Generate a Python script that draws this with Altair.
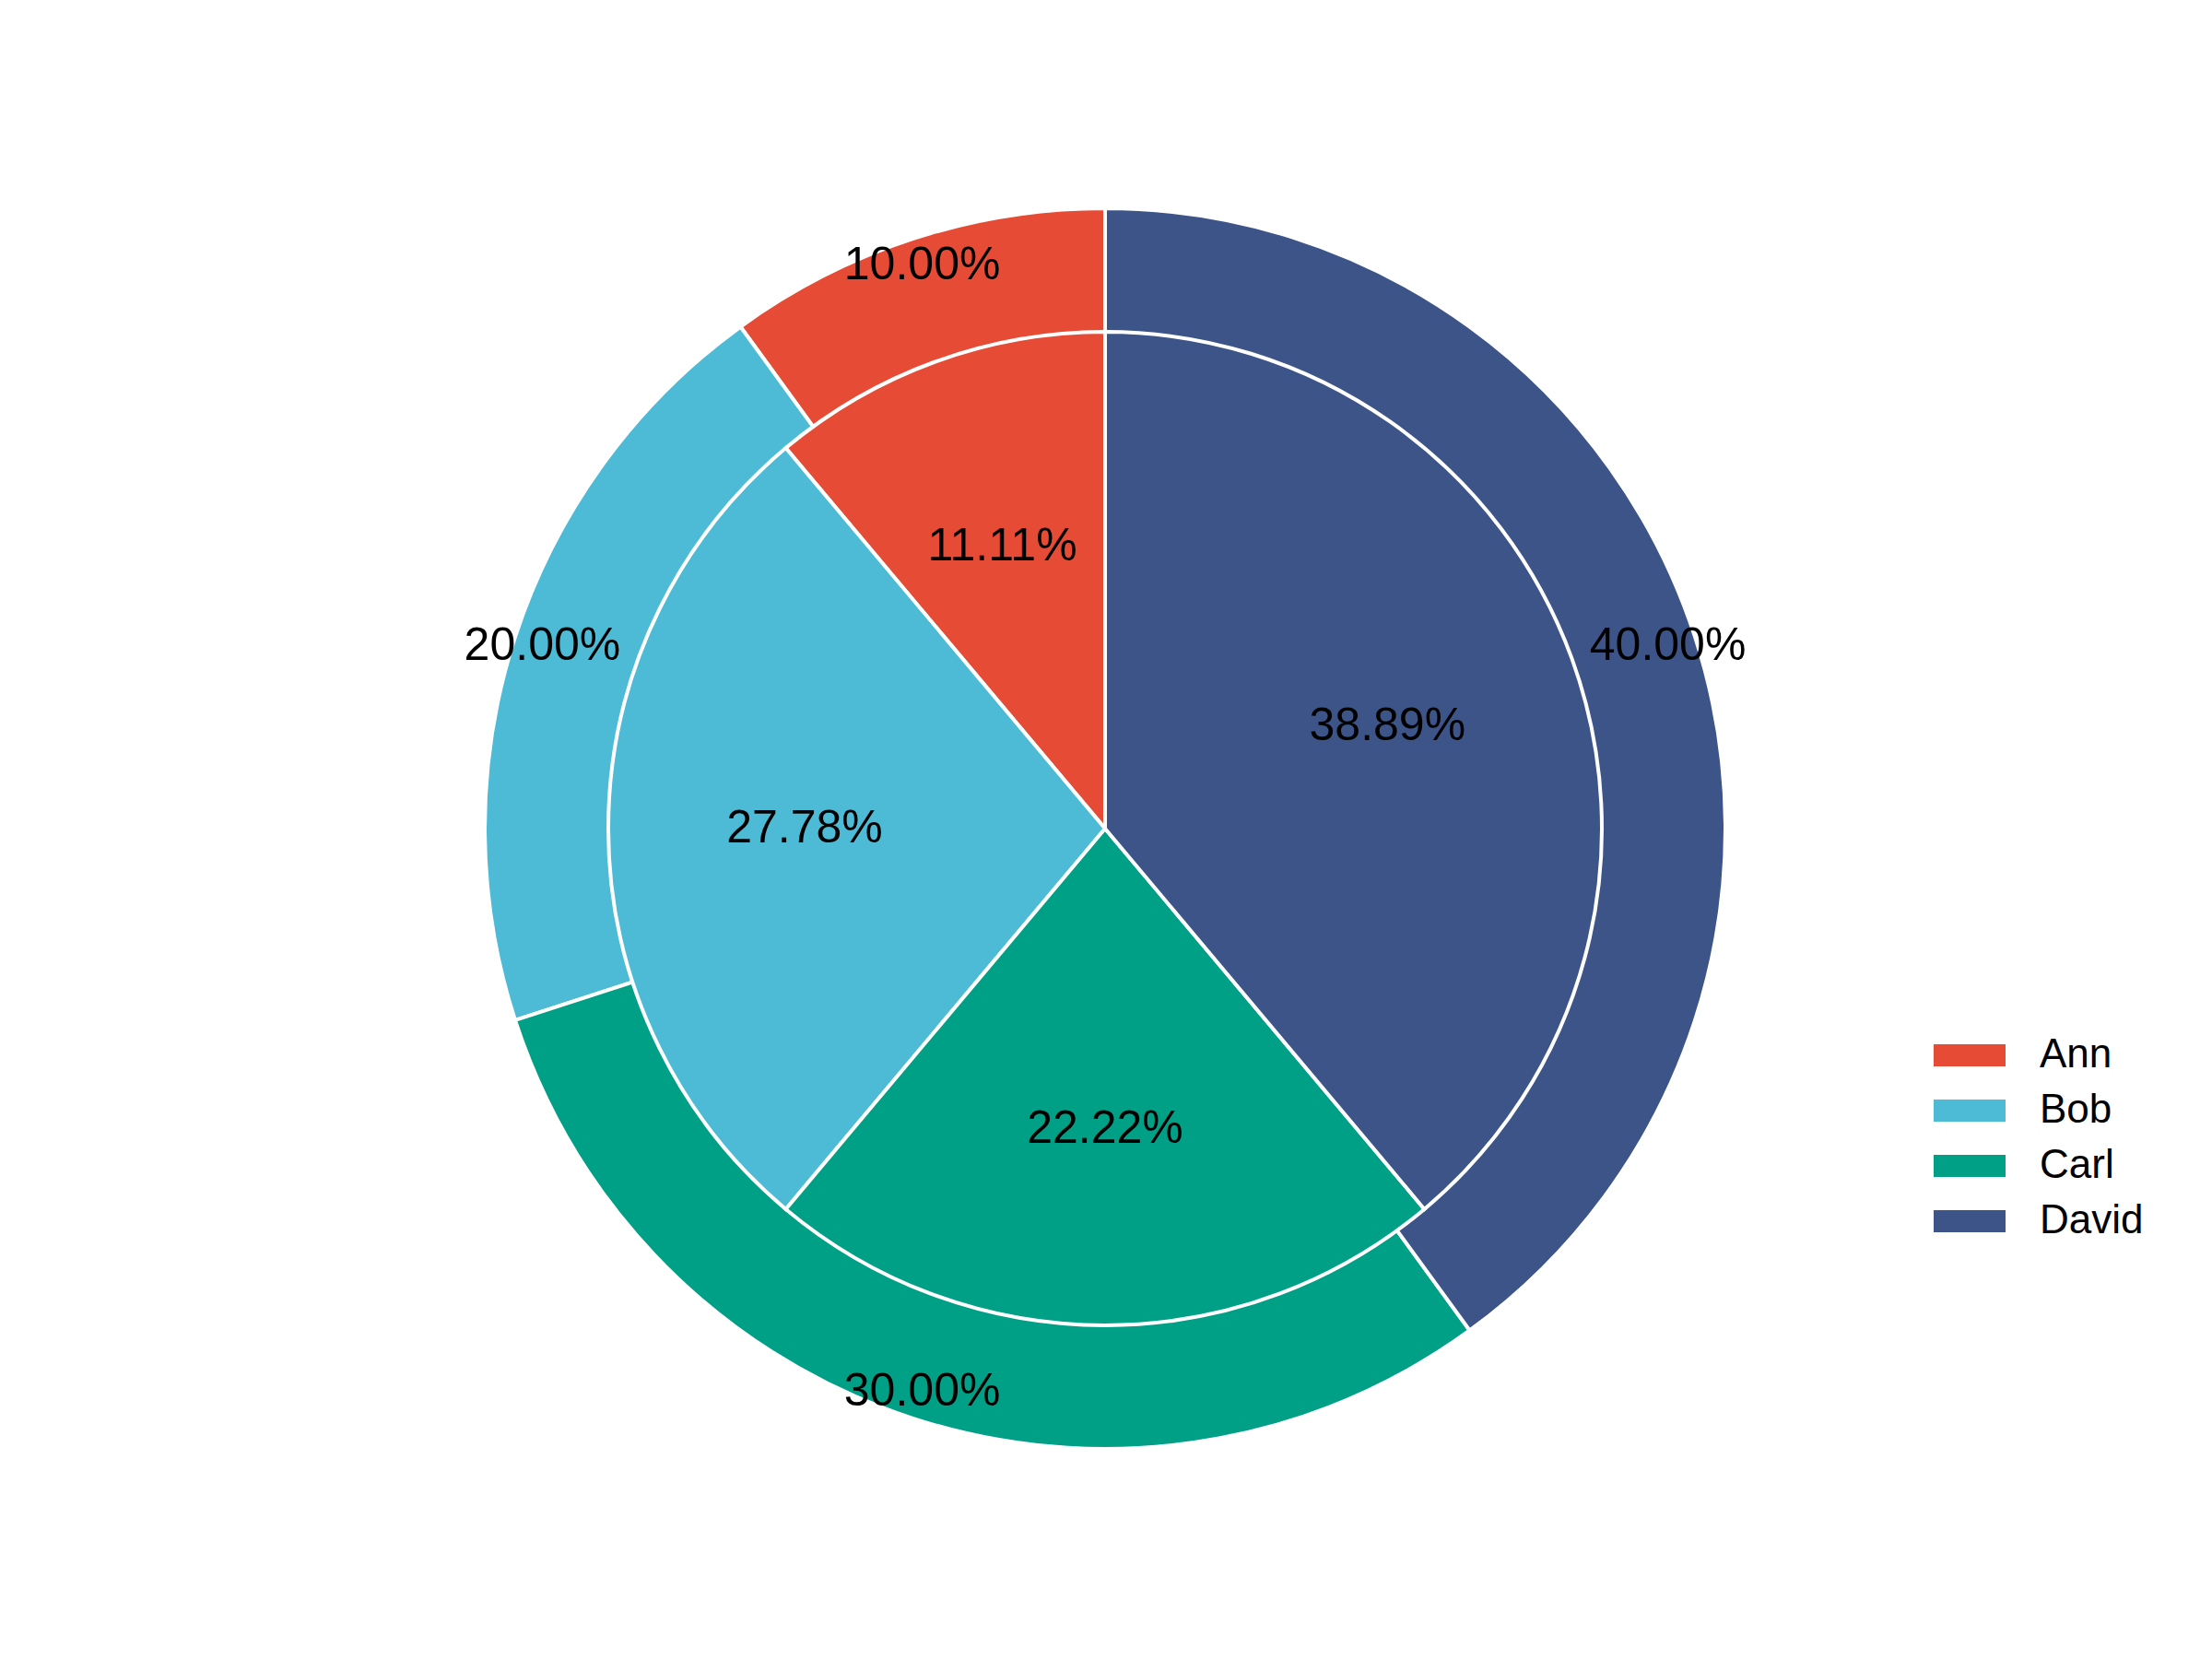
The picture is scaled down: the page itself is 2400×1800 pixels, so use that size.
import altair as alt
import pandas as pd

names = ["Ann", "Bob", "Carl", "David"]
colors = ["#E64B35", "#4DBBD5", "#00A087", "#3C5488"]
outer_pct = [10.0, 20.0, 30.0, 40.0]
inner_pct = [11.11, 27.78, 22.22, 38.89]
draw_order = [3, 2, 1, 0]  # clockwise from 12 o'clock: David, Carl, Bob, Ann


def frame(vals):
    return pd.DataFrame({
        "name": names,
        "pct": vals,
        "ord": draw_order,
        "label": [f"{v:.2f}%" for v in vals],
    })


outer = frame(outer_pct)
inner = frame(inner_pct)

FONT = "Liberation Sans"

color = alt.Color(
    "name:N",
    scale=alt.Scale(domain=names, range=colors),
    legend=alt.Legend(
        title=None,
        orient="none",
        legendX=2090,
        legendY=1107,
        symbolType="M-1,-0.3077H1V0.3077H-1Z",
        symbolSize=6084,
        symbolStrokeWidth=0,
        symbolOpacity=1,
        labelFont=FONT,
        labelFontSize=44,
        labelColor="black",
        labelOffset=37,
        clipHeight=60,
        rowPadding=0,
        padding=0,
    ),
)
theta = alt.Theta("pct:Q", stack=True)
order = alt.Order("ord:O")

outer_arc = alt.Chart(outer).mark_arc(
    outerRadius=673, innerRadius=0, stroke="white", strokeWidth=4
).encode(theta=theta, color=color, order=order)

inner_arc = alt.Chart(inner).mark_arc(
    outerRadius=539, innerRadius=0, stroke="white", strokeWidth=4
).encode(theta=theta, color=color, order=order)

outer_txt = alt.Chart(outer).mark_text(
    radius=642, font=FONT, fontSize=50, color="black", align="center", baseline="middle"
).encode(theta=theta, order=order, text="label:N")

inner_txt = alt.Chart(inner).mark_text(
    radius=326, font=FONT, fontSize=50, color="black", align="center", baseline="middle"
).encode(theta=theta, order=order, text="label:N")

chart = alt.layer(outer_arc, inner_arc, outer_txt, inner_txt).properties(
    width=2382,
    height=1782,
    autosize=alt.AutoSizeParams(type="none"),
    padding=0,
).configure_view(stroke=None)

chart.save("out.html", embed_options={"renderer": "svg", "actions": False})
